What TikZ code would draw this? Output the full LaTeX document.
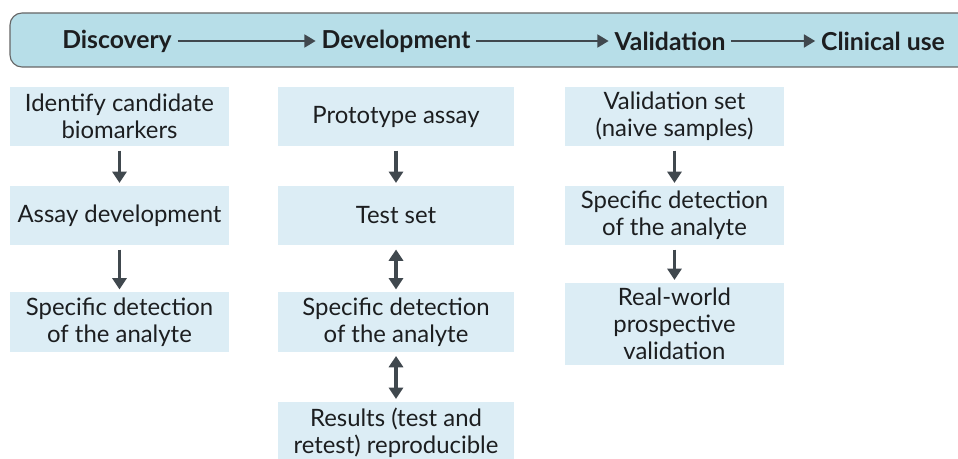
\documentclass[tikz,border=0pt]{standalone}
\usepackage{fontspec}
\setmainfont{Lato}
\usepackage{xcolor}
\usetikzlibrary{arrows.meta,
                positioning}
\definecolor{bandblue}{RGB}{183,222,232}
\definecolor{boxblue}{RGB}{220,237,245}
\definecolor{arrowgray}{RGB}{64,72,78}
\definecolor{inkblack}{RGB}{28,30,32}
\tikzstyle{stage} = [text=inkblack, font=\fontsize{17.6}{20}\selectfont\bfseries, inner sep=4pt]
\tikzstyle{stagebox} = [fill=boxblue, text=inkblack, align=center, inner sep=0pt,
                        minimum height=1.475cm, font=\fontsize{17}{19}\selectfont]
\tikzstyle{arrow} = [arrowgray, line width=2.2pt, -{Triangle[length=8pt,width=10pt]},
                     shorten <=3pt, shorten >=2pt]
\tikzstyle{twoway} = [arrow, {Triangle[length=8pt,width=10pt]}-{Triangle[length=8pt,width=10pt]}]
\tikzstyle{flow} = [arrowgray, line width=1.9pt, -{Triangle[length=8pt,width=9pt]}]

\begin{document}
\begin{tikzpicture}[x=0.025cm, y=-0.025cm]
    \useasboundingbox (0,0) rectangle (958,459);
    \clip (0,0) rectangle (958,459);

    % header band
    \draw[fill=bandblue, draw=gray!80!black, line width=0.8pt, rounded corners=0.3cm]
        (10,13) rectangle (990,67);
    \node[stage] (disc) at (117,41) {Discovery};
    \node[stage] (dev) at (396,41) {Development};
    \node[stage] (val) at (670,41) {Validation};
    \node[stage] (clin) at (883,41) {Clinical use};
    \draw [flow] (disc) -- (dev);
    \draw [flow] (dev) -- (val);
    \draw [flow] (val) -- (clin);

    % discovery column
    \node[stagebox, minimum width=5.475cm] (d1) at (119.5,116.5) {Identify candidate\\biomarkers};
    \node[stagebox, minimum width=5.475cm] (d2) at (119.5,215.5) {Assay development};
    \node[stagebox, minimum width=5.475cm] (d3) at (119.5,322) {Specific detection\\of the analyte};

    % development column
    \node[stagebox, minimum width=5.9cm] (p1) at (396,116.5) {Prototype assay};
    \node[stagebox, minimum width=5.9cm] (p2) at (396,215.5) {Test set};
    \node[stagebox, minimum width=5.9cm] (p3) at (396,322) {Specific detection\\of the analyte};
    \node[stagebox, minimum width=5.9cm, minimum height=1.55cm] (p4) at (396,433) {Results (test and\\retest) reproducible};

    % validation column
    \node[stagebox, minimum width=5.475cm] (v1) at (674.5,116.5) {Validation set\\(naive samples)};
    \node[stagebox, minimum width=5.475cm] (v2) at (674.5,215.5) {Specific detection\\of the analyte};
    \node[stagebox, minimum width=5.475cm, minimum height=2.05cm] (v3) at (674.5,324) {Real-world\\prospective\\validation};

    \draw [arrow] (d1) -- (d2);
    \draw [arrow] (d2) -- (d3);
    \draw [arrow] (p1) -- (p2);
    \draw [twoway] (p2) -- (p3);
    \draw [twoway] (p3) -- (p4);
    \draw [arrow] (v1) -- (v2);
    \draw [arrow] (v2) -- (v3);
\end{tikzpicture}
\end{document}
